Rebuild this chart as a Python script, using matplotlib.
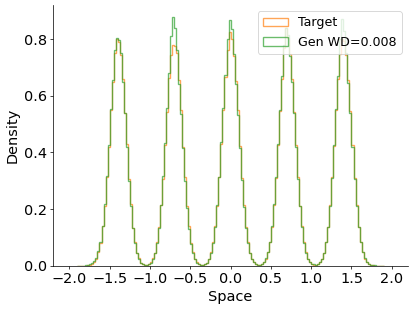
import numpy as np
import matplotlib
matplotlib.use('Agg')
import matplotlib.pyplot as plt

# 分箱: -1.9 到 1.9, 宽 0.025
bin_edges = np.round(np.arange(-1.9, 1.9001, 0.025), 4)

# Target 直方图高度
target_tail_left = [0, 0, 0, 0.001, 0.001, 0.002]
target_p1 = [0.003, 0.008, 0.014, 0.025, 0.050, 0.082, 0.140, 0.210, 0.315, 0.420, 0.550, 0.650, 0.750, 0.800,
             0.790, 0.745, 0.660, 0.540, 0.430, 0.305, 0.218, 0.135, 0.086, 0.046, 0.027, 0.012, 0.007, 0.004]
target_p2 = [0.004, 0.006, 0.013, 0.027, 0.047, 0.086, 0.136, 0.216, 0.308, 0.428, 0.542, 0.662, 0.742, 0.780,
             0.775, 0.750, 0.655, 0.550, 0.420, 0.315, 0.210, 0.140, 0.082, 0.049, 0.025, 0.014, 0.006, 0.004]
target_p3 = [0.003, 0.007, 0.012, 0.026, 0.049, 0.083, 0.139, 0.212, 0.312, 0.430, 0.548, 0.665, 0.760, 0.825,
             0.800, 0.740, 0.652, 0.548, 0.422, 0.310, 0.216, 0.137, 0.085, 0.047, 0.026, 0.013, 0.007, 0.003]
target_p4 = [0.004, 0.007, 0.014, 0.025, 0.048, 0.085, 0.137, 0.215, 0.310, 0.426, 0.545, 0.660, 0.770, 0.840,
             0.805, 0.748, 0.658, 0.544, 0.428, 0.312, 0.212, 0.139, 0.083, 0.048, 0.026, 0.013, 0.007, 0.004]
target_p5 = [0.004, 0.006, 0.013, 0.026, 0.047, 0.084, 0.138, 0.213, 0.314, 0.424, 0.548, 0.660, 0.748, 0.800,
             0.792, 0.744, 0.656, 0.546, 0.425, 0.309, 0.215, 0.136, 0.085, 0.048, 0.025, 0.013, 0.006, 0.003]
target_tail_right = [0.002, 0.001, 0.001, 0, 0, 0]

# Gen 直方图高度
gen_tail_left = [0, 0, 0.001, 0.001, 0.002, 0.003]
gen_p1 = [0.005, 0.009, 0.016, 0.028, 0.052, 0.086, 0.142, 0.218, 0.318, 0.428, 0.552, 0.655, 0.760, 0.805,
          0.798, 0.752, 0.650, 0.538, 0.420, 0.300, 0.210, 0.132, 0.080, 0.045, 0.024, 0.012, 0.006, 0.004]
gen_p2 = [0.004, 0.006, 0.012, 0.024, 0.046, 0.082, 0.135, 0.214, 0.316, 0.432, 0.558, 0.680, 0.810, 0.878,
          0.840, 0.760, 0.640, 0.535, 0.415, 0.300, 0.205, 0.130, 0.078, 0.044, 0.024, 0.012, 0.006, 0.004]
gen_p3 = [0.003, 0.006, 0.012, 0.025, 0.046, 0.082, 0.136, 0.214, 0.315, 0.436, 0.556, 0.672, 0.800, 0.867,
          0.835, 0.748, 0.640, 0.532, 0.416, 0.302, 0.208, 0.132, 0.080, 0.046, 0.025, 0.013, 0.007, 0.004]
gen_p4 = [0.004, 0.008, 0.014, 0.027, 0.050, 0.086, 0.140, 0.218, 0.312, 0.430, 0.550, 0.668, 0.780, 0.840,
          0.815, 0.740, 0.650, 0.540, 0.420, 0.306, 0.210, 0.136, 0.082, 0.047, 0.026, 0.014, 0.008, 0.005]
gen_p5 = [0.004, 0.007, 0.013, 0.025, 0.046, 0.083, 0.137, 0.212, 0.310, 0.428, 0.552, 0.670, 0.800, 0.870,
          0.830, 0.750, 0.645, 0.538, 0.420, 0.305, 0.212, 0.138, 0.085, 0.050, 0.028, 0.015, 0.008, 0.004]
gen_tail_right = [0.003, 0.002, 0.001, 0.001, 0, 0]

target_density = target_tail_left + target_p1 + target_p2 + target_p3 + target_p4 + target_p5 + target_tail_right
gen_density = gen_tail_left + gen_p1 + gen_p2 + gen_p3 + gen_p4 + gen_p5 + gen_tail_right

x_ticks = [-2.0, -1.5, -1.0, -0.5, 0.0, 0.5, 1.0, 1.5, 2.0]
y_ticks = [0.0, 0.2, 0.4, 0.6, 0.8]

centers = (bin_edges[:-1] + bin_edges[1:]) / 2

# 原图约为 65 dpi 渲染
fig = plt.figure(figsize=(415 / 65, 311 / 65), dpi=65)
ax = fig.add_axes([0.128, 0.145, 0.855, 0.839])

ax.hist(centers, bins=bin_edges, weights=target_density, histtype='step',
        color='#ff7f0e', alpha=0.7, linewidth=1.5, label='Target')
ax.hist(centers, bins=bin_edges, weights=gen_density, histtype='step',
        color='#2ca02c', alpha=0.7, linewidth=1.5, label='Gen WD=0.008')

ax.set_xlim(-2.2, 2.2)
ax.set_ylim(0, 0.92)
ax.set_xticks(x_ticks)
ax.set_yticks(y_ticks)
ax.tick_params(labelsize=16)
ax.set_xlabel('Space', fontsize=16)
ax.set_ylabel('Density', fontsize=16)

for side in ['top', 'right']:
    ax.spines[side].set_visible(False)

ax.legend(loc='upper right', fontsize=14)

fig.savefig('out.png', dpi=65)
